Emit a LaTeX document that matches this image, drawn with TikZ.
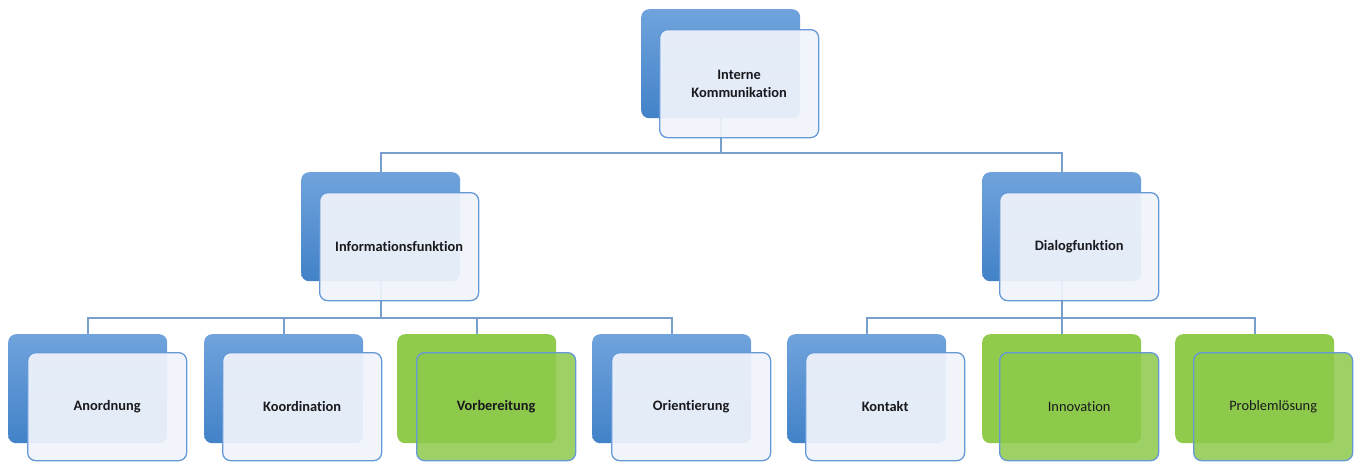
\documentclass[tikz,border=0pt]{standalone}
\usepackage{fontspec}
\setmainfont[RawFeature=-liga]{Carlito}
\definecolor{bluetop}{RGB}{112,163,220}
\definecolor{bluebot}{RGB}{66,130,200}
\definecolor{greenfill}{RGB}{141,201,74}
\definecolor{greenback}{RGB}{144,203,76}
\definecolor{frameblue}{RGB}{100,152,214}
\definecolor{linecol}{RGB}{120,158,204}
\definecolor{paleblue}{RGB}{240,244,251}
\definecolor{txt}{RGB}{25,25,30}
\begin{document}
\begin{tikzpicture}[x=1pt,y=-1pt,
  backblue/.style={rounded corners=8pt, top color=bluetop, bottom color=bluebot, draw=none,
    minimum width=159pt, minimum height=109pt, inner sep=0pt, anchor=north west},
  backgreen/.style={rounded corners=8pt, fill=greenback, draw=none,
    minimum width=159pt, minimum height=109pt, inner sep=0pt, anchor=north west},
  frontblue/.style={rounded corners=8pt, fill=paleblue, fill opacity=0.93, text opacity=1,
    draw=frameblue, line width=1.3pt, minimum width=159pt, minimum height=108pt,
    inner sep=0pt, anchor=north west, align=center, text=txt,
    font=\fontsize{14.4}{17.5}\selectfont\bfseries},
  frontgreen/.style={frontblue, fill=greenfill, fill opacity=0.85},
  thin text/.style={font=\fontsize{14.4}{17.5}\selectfont\mdseries},
  conn/.style={draw=linecol, line width=2pt}
]
\useasboundingbox (0,0) rectangle (1357,461);

% back boxes
\node[backblue] (b1) at (641,9) {};
\node[backblue] (b2) at (301,172) {};
\node[backblue] (b3) at (982,172) {};
\node[backblue] (c1) at (8,334) {};
\node[backblue] (c2) at (204,334) {};
\node[backgreen] (c3) at (397,334) {};
\node[backblue] (c4) at (592,334) {};
\node[backblue] (c5) at (787,334) {};
\node[backgreen] (c6) at (982,334) {};
\node[backgreen] (c7) at (1175,334) {};

% connectors
\draw[conn] (b1.south) -- ++(0,35) -| (b2.north);
\draw[conn] (b1.south) -- ++(0,35) -| (b3.north);
\draw[conn] (b2.south) -- ++(0,37) -| (c1.north);
\draw[conn] (b2.south) -- ++(0,37) -| (c2.north);
\draw[conn] (b2.south) -- ++(0,37) -| (c3.north);
\draw[conn] (b2.south) -- ++(0,37) -| (c4.north);
\draw[conn] (b3.south) -- ++(0,37) -| (c5.north);
\draw[conn] (b3.south) -- ++(0,37) -| (c6.north);
\draw[conn] (b3.south) -- ++(0,37) -| (c7.north);

% front boxes
\node[frontblue] (f1) at (659,29) {Interne\\Kommunikation};
\node[frontblue] (f2) at (319,192) {Informationsfunktion};
\node[frontblue] (f3) at (999,192) {Dialogfunktion};
\node[frontblue] (g1) at (27,352) {Anordnung};
\node[frontblue] (g2) at (222,352) {Koordination};
\node[frontgreen] (g3) at (416,352) {Vorbereitung};
\node[frontblue] (g4) at (611,352) {Orientierung};
\node[frontblue] (g5) at (805,352) {Kontakt};
\node[frontgreen, thin text] (g6) at (999,352) {Innovation};
\node[frontgreen, thin text] (g7) at (1193,352) {Problemlösung};
\end{tikzpicture}
\end{document}
